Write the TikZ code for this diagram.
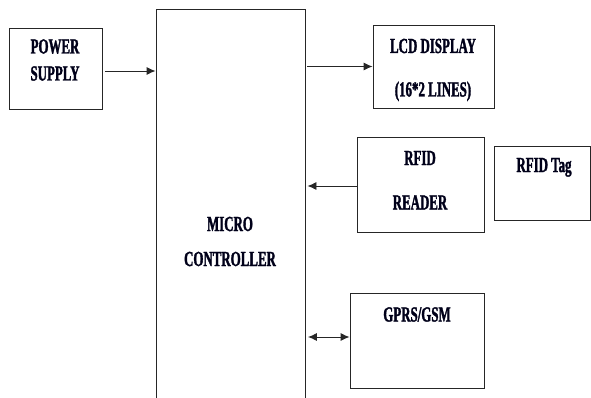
\documentclass[tikz,border=0pt]{standalone}
\usepackage{fontspec}
\setmainfont{Liberation Serif}[FakeStretch=0.6,BoldFeatures={FakeStretch=0.6,FakeBold=1.5}]
\usetikzlibrary{arrows.meta}
\begin{document}
\begin{tikzpicture}[x=1pt,y=1pt,
		blk/.style={draw=black!85,line width=0.9pt,inner sep=0pt},
		lbl/.style={anchor=base,inner sep=0pt,text=black!90!blue,font=\fontsize{21.5}{24}\selectfont\bfseries},
		con/.style={draw=black!85,line width=0.9pt,>={Latex[length=9pt,width=8pt]}}]
		\useasboundingbox (0,0) rectangle (591,-398);
		% blocks
		\node[blk,minimum width=93,minimum height=81] (pwr) at (55.5,-68.5) {};
		\node[blk,minimum width=149,minimum height=420,anchor=north] (mc) at (230.5,-9) {};
		\node[blk,minimum width=121,minimum height=83] (lcd) at (433.5,-66.5) {};
		\node[blk,minimum width=127,minimum height=95] (rdr) at (420.5,-184.5) {};
		\node[blk,minimum width=96,minimum height=74] (tag) at (542,-183) {};
		\node[blk,minimum width=134,minimum height=95] (gsm) at (417,-340.5) {};
		% texts
		\node[lbl] (pwrA) at (55,-53.5) {POWER};
		\node[lbl] (pwrB) at (55,-80.5) {SUPPLY};
		\node[lbl] (mcA) at (230,-231) {MICRO};
		\node[lbl] (mcB) at (230,-266) {CONTROLLER};
		\node[lbl] (lcdA) at (433,-53) {LCD DISPLAY};
		\node[lbl] (lcdB) at (433,-96.5) {(16*2 LINES)};
		\node[lbl] (rdrA) at (420,-165) {RFID};
		\node[lbl] (rdrB) at (420,-209.5) {READER};
		\node[lbl] (tagA) at (544,-172) {RFID Tag};
		\node[lbl] (gsmA) at (417,-321.5) {GPRS/GSM};
		% connections
		\draw[con,->,shorten <=2.5pt] ([yshift=-2.5pt]pwr.east) -- ([yshift=-2.5pt]pwr.east -| mc.west);
		\draw[con,->,shorten <=2pt] (mc.east |- lcd.west) -- (lcd.west);
		\draw[con,->,shorten >=2pt] ([yshift=-1.5pt]rdr.west) -- ([yshift=-1.5pt]rdr.west -| mc.east);
		\draw[con,<->,shorten <=2.5pt] ([yshift=3.5pt]gsm.west -| mc.east) -- ([yshift=3.5pt]gsm.west);
	\end{tikzpicture}
\end{document}
